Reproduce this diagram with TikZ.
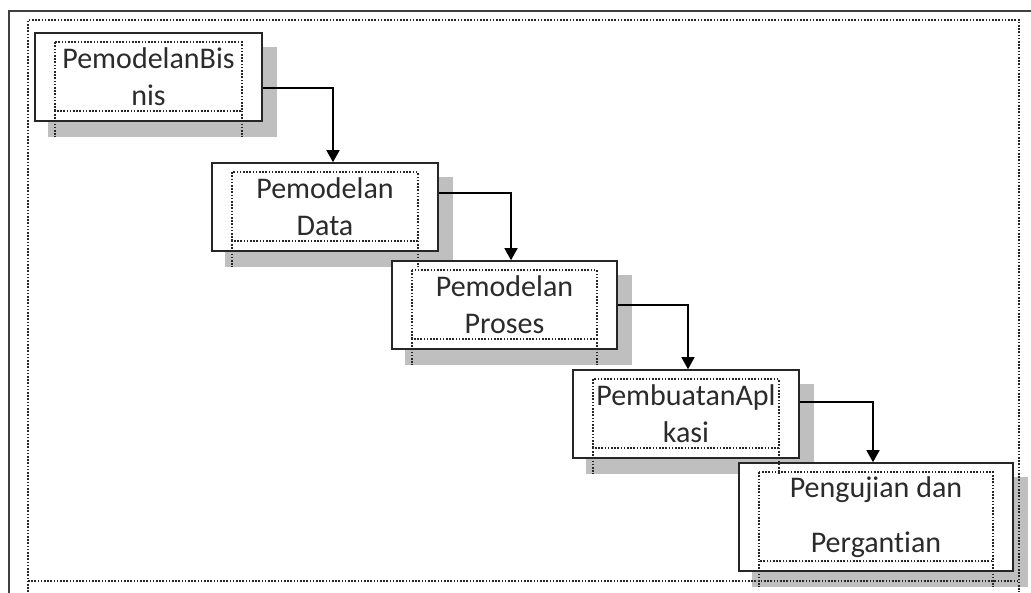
\documentclass[tikz,border=0pt]{standalone}
\usepackage{fontspec}
\setmainfont{Carlito}[Ligatures=NoCommon]
\usetikzlibrary{arrows.meta,positioning,calc,backgrounds}
\definecolor{framegray}{HTML}{404040}
\definecolor{shadowgray}{HTML}{BFBFBF}
\definecolor{textgray}{HTML}{2B2B2B}

\begin{document}
\begin{tikzpicture}[x=1pt, y=-1pt,
  stagebox/.style={draw=black!85, line width=1.6pt, fill=white, inner sep=0pt,
    align=center, font=\fontsize{30}{37}\selectfont, text=textgray},
  dotline/.style={black!85, line width=1.9pt, dash pattern=on 1.6pt off 1.6pt},
  flow/.style={line width=1.5pt, -{Triangle[width=13pt,length=12pt]}}]
  \useasboundingbox (0,0) rectangle (1031,592);

  % Stages
  \node[stagebox, minimum width=227pt, minimum height=88pt] (bisnis) at (148.5,77) {PemodelanBis\\nis};
  \node[stagebox, minimum width=226pt, minimum height=88pt] (data) at (325,207) {Pemodelan\\Data};
  \node[stagebox, minimum width=225pt, minimum height=88pt] (proses) at (504.5,305) {Pemodelan\\Proses};
  \node[stagebox, minimum width=226pt, minimum height=88pt] (aplikasi) at (686,414) {PembuatanApl\\kasi};
  \node[stagebox, minimum width=274pt, minimum height=108pt] (uji) at (876,517) {Pengujian dan\\[18pt]Pergantian};

  % Shadows
  \begin{pgfonlayer}{background}
    \foreach \n in {bisnis,data,proses,aplikasi,uji}
      \fill[shadowgray] ($(\n.north west)+(14,15)$) rectangle ($(\n.south east)+(14,15)$);
  \end{pgfonlayer}

  % Inner text frames
  \foreach \n in {bisnis,data,proses,aplikasi,uji} {
    \draw[dotline] ($(\n.north west)+(21,10)$) rectangle ($(\n.south east)+(-21,-11)$);
    \draw[dotline] ($(\n.south west)+(21,-11)$) -- ($(\n.south west)+(21,15)$);
    \draw[dotline] ($(\n.south east)+(-21,-11)$) -- ($(\n.south east)+(-21,15)$);
  }

  % Flow
  \draw[flow] ($(bisnis.east)+(0,11)$) -| ($(data.north)+(8,0)$);
  \draw[flow] ($(data.east)+(0,-14)$) -| ($(proses.north)+(6.5,0)$);
  \draw[flow] (proses.east) -| ($(aplikasi.north)+(2,0)$);
  \draw[flow] ($(aplikasi.east)+(0,-12)$) -| ($(uji.north)+(-3,0)$);

  % Page frame
  \draw[framegray, line width=2pt] (9,600) -- (9,11) -- (1040,11);
  \draw[dotline] (28,592) -- (28,20) -- (1019,20) -- (1019,592);
  \draw[dotline] (28,581) -- (1019,581);
\end{tikzpicture}
\end{document}
